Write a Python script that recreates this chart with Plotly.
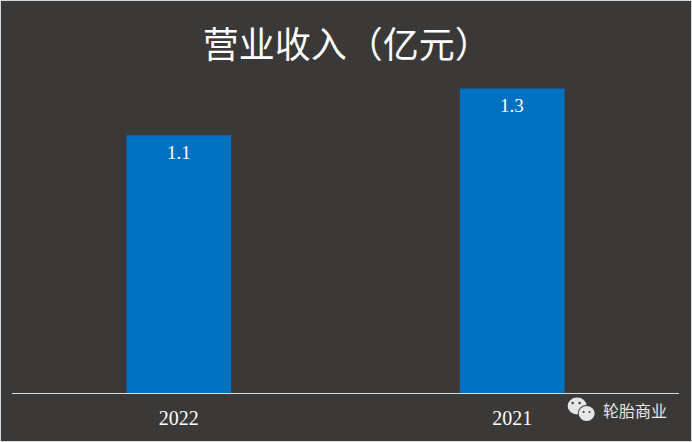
import plotly.graph_objects as go

years = ["2022", "2021"]
revenue = [1.1, 1.3]
title = "营业收入（亿元）"
brand = "轮胎商业"

bg = "#3b3938"
fig = go.Figure()
fig.add_trace(go.Bar(
    x=years,
    y=revenue,
    width=0.314,
    marker=dict(color="#0070c0", line=dict(width=0)),
))

fig.update_layout(
    width=690,
    height=440,
    margin=dict(l=10.5, r=11.5, t=63.5, b=48, autoexpand=False),
    paper_bgcolor=bg,
    plot_bgcolor=bg,
    showlegend=False,
    title=dict(
        text=title,
        font=dict(family="Noto Sans CJK SC", size=36, color="white"),
        x=0.501,
        xanchor="center",
        y=0.898,
        yanchor="middle",
    ),
    xaxis=dict(
        type="category",
        range=[-0.5, 1.5],
        showgrid=False,
        showline=True,
        linecolor="#d9d9d9",
        linewidth=1,
        ticks="",
        ticklabelstandoff=7,
        tickfont=dict(family="Liberation Serif", size=20, color="white"),
    ),
    yaxis=dict(range=[0, 1.4], visible=False, showgrid=False, zeroline=False),
)

# value labels sit a bit lower inside the bars than plotly's inside text
# (annotations on a category axis read "2022" as a position, so use the index)
for i, v in enumerate(revenue):
    fig.add_annotation(
        x=i, y=v, text=str(v), showarrow=False, yanchor="top", yshift=-5,
        font=dict(family="Liberation Serif", size=19, color="white"),
    )

# watermark text
fig.add_annotation(
    text=brand, xref="paper", yref="paper", x=(635.5 - 11.5) / 668, y=(393 - 410) / 328,
    xanchor="center", yanchor="middle", showarrow=False,
    font=dict(family="Noto Sans CJK SC", size=16, color="#e8e8e8"),
)

# chat bubbles next to the watermark
bubble = "#e6e6e6"
for cx, cy, rx, ry, col in [
    (577.5, 406, 9.5, 8.5, bubble),
    (587, 413.5, 9, 8.5, bg),
    (587, 413.5, 8, 7.5, bubble),
    (573, 403, 1.2, 1.2, bg),
    (580, 403, 1.2, 1.2, bg),
    (584, 412, 1, 1, bg),
    (590, 412, 1, 1, bg),
]:
    fig.add_shape(
        type="circle", xref="paper", yref="paper",
        x0=(cx - rx - 11.5) / 668, x1=(cx + rx - 11.5) / 668,
        y0=(393 - cy - ry) / 328, y1=(393 - cy + ry) / 328,
        fillcolor=col, line_width=0, layer="above",
    )

fig.write_html(
    "out.html",
    post_script="document.body.style.margin='1px';document.body.style.background='#d9d9d9';document.body.style.overflow='hidden';",
)
